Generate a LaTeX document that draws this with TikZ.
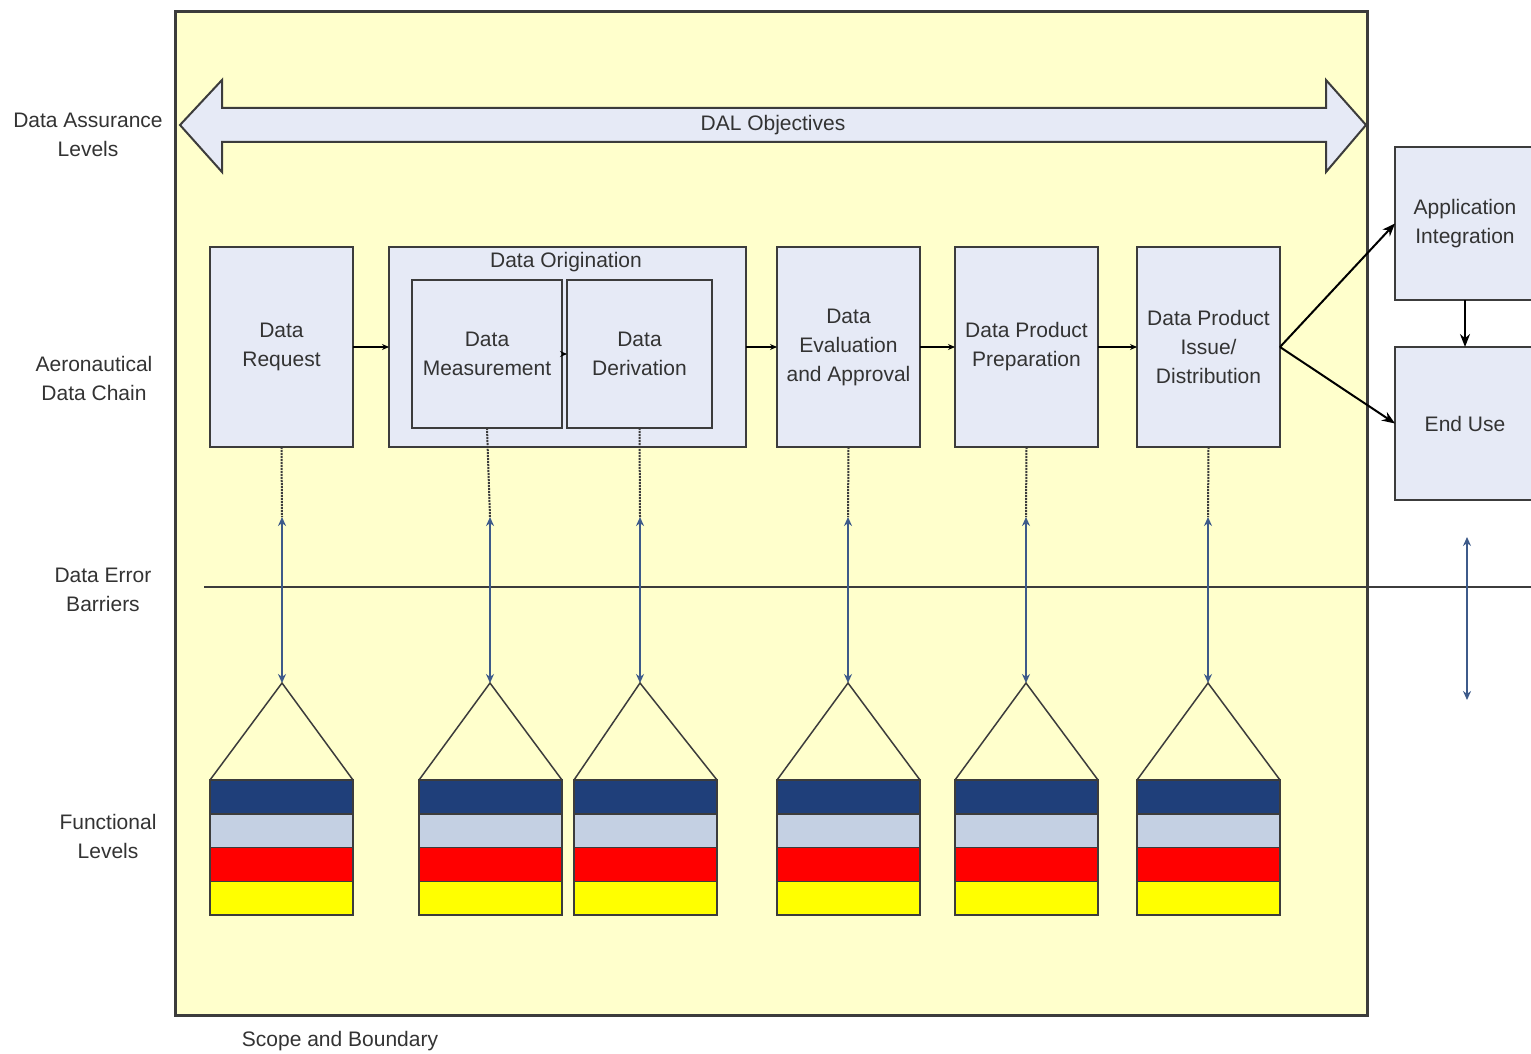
\documentclass[tikz,border=0pt]{standalone}
\usepackage{fontspec}
\setmainfont{Liberation Sans}
\usetikzlibrary{arrows.meta}
\usetikzlibrary{positioning}

\definecolor{scopeyellow}{HTML}{FFFFCC}
\definecolor{boxfill}{HTML}{E6EAF6}
\definecolor{edge}{HTML}{3C3C3C}
\definecolor{barrierblue}{HTML}{3D5A8A}
\definecolor{lvlnavy}{HTML}{1F3F7A}
\definecolor{lvlgrey}{HTML}{C4D0E3}
\definecolor{lvlred}{HTML}{FF0000}
\definecolor{lvlyellow}{HTML}{FFFF00}
\definecolor{txt}{HTML}{333333}

\tikzset{every node/.style = {font = \fontsize{21}{29}\selectfont, text = txt, align = center}}
\tikzset{chainbox/.style = {draw = edge, fill = boxfill, line width = 2pt, inner sep = 0, outer sep = 0,
                            minimum width = 143pt, minimum height = 200pt}}
\tikzset{lvl/.style = {draw = edge, line width = 1.5pt, inner sep = 0, outer sep = 0,
                       minimum width = 143pt, minimum height = 33.75pt}}
\tikzset{flow/.style = {draw = black, line width = 1.5pt, -{Stealth[length = 7pt, width = 6pt]}}}
\tikzset{outflow/.style = {draw = black, line width = 2pt, -{Stealth[length = 13pt, width = 10pt]}}}
\tikzset{barrier/.style = {draw = barrierblue, line width = 2pt,
                           {Stealth[length = 9pt, width = 8pt]}-{Stealth[length = 9pt, width = 8pt]}}}
\tikzset{dropline/.style = {draw = edge, line width = 2pt, densely dotted}}

\begin{document}
\begin{tikzpicture}[x = 1pt, y = -1pt]
      \useasboundingbox (0, 0) rectangle (1531, 1054);
      \clip (0, 0) rectangle (1531, 1054);
      \fill [white] (0, 0) rectangle (1531, 1054);

      % scope and boundary
      \node [draw = edge, fill = scopeyellow, line width = 3pt, minimum width = 1192pt,
             minimum height = 1003pt, inner sep = 0] (scope) at (771, 513.5) {};
      \node (scopelbl) at (340, 1041) {Scope and Boundary};

      % DAL objectives
      \draw [draw = edge, fill = boxfill, line width = 2pt]
        (180, 125) -- (222, 80) -- (222, 108) -- (1326, 108) -- (1326, 80) -- (1366, 125)
        -- (1326, 172) -- (1326, 142) -- (222, 142) -- (222, 172) -- cycle;
      \node (dal) at (773, 125) {DAL Objectives};

      % row labels
      \node (lbldal) at (88, 135) {Data Assurance\\Levels};
      \node (lblchain) at (94, 378) {Aeronautical\\Data Chain};
      \node (lblbarrier) at (103, 590) {Data Error\\Barriers};
      \node (lblfunc) at (108, 836) {Functional\\Levels};

      % data chain
      \node [chainbox] (req) at (281.5, 347) {Data\\Request};
      \node [chainbox, minimum width = 357pt] (orig) at (567.5, 347) {};
      \node (origlbl) at (566, 262) {Data Origination};
      \node [chainbox, minimum width = 150pt, minimum height = 148pt] (meas) at (487, 354) {Data\\Measurement};
      \node [chainbox, minimum width = 145pt, minimum height = 148pt] (deriv) at (639.5, 354) {Data\\Derivation};
      \node [chainbox] (eval) at (848.5, 347) {Data\\Evaluation\\and Approval};
      \node [chainbox] (prep) at (1026.5, 347) {Data Product\\Preparation};
      \node [chainbox] (issue) at (1208.5, 347) {Data Product\\Issue/\\Distribution};
      \node [chainbox, minimum width = 140pt, minimum height = 153pt] (app) at (1465, 223.5) {Application\\Integration};
      \node [chainbox, minimum width = 140pt, minimum height = 153pt] (enduse) at (1465, 423.5) {End Use};

      \draw [flow] (req) -- (orig);
      \draw [flow] (meas) -- (deriv);
      \draw [flow] (orig) -- (eval);
      \draw [flow] (eval) -- (prep);
      \draw [flow] (prep) -- (issue);
      \draw [outflow] (issue.east) -- (app.west);
      \draw [outflow] (issue.east) -- (enduse.west);
      \draw [outflow] (app) -- (enduse);

      % error barriers
      \coordinate (barl) at (204, 587);
      \coordinate (barr) at (1540, 587);
      \draw [draw = edge, line width = 2pt] (barl) -- (barr);

      \foreach \n/\b/\x/\c in {1/req/282/281.5, 2/meas/490/490.5, 3/deriv/640/645.5,
                               4/eval/848/848.5, 5/prep/1026/1026.5, 6/issue/1208/1208.5} {
        \coordinate (t\n) at (\x, 517);
        \coordinate (a\n) at (\x, 683);
        \foreach \k/\col in {0/lvlnavy, 1/lvlgrey, 2/lvlred, 3/lvlyellow} {
          \node [lvl, fill = \col] (f\n-\k) at (\c, {796.875 + 33.75*\k}) {};
        }
        \draw [dropline] (\b.south) -- (t\n);
        \draw [barrier] (t\n) -- (a\n);
        \draw [draw = edge, line width = 1.5pt] (f\n-0.north west) -- (a\n) -- (f\n-0.north east);
      }

      \coordinate (rt) at (1467, 537);
      \coordinate (rb) at (1467, 700);
      \draw [barrier] (rt) -- (rb);
    \end{tikzpicture}
\end{document}
